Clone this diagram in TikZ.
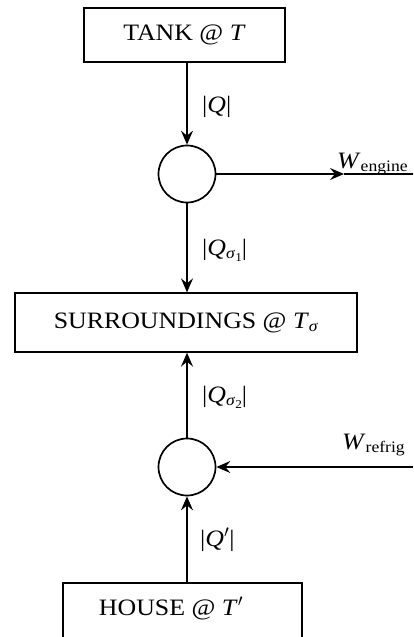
\documentclass[tikz,border=0pt]{standalone}
\usepackage{fontspec}
\setmainfont{Liberation Serif}[FakeStretch=1.1]
\usetikzlibrary{arrows.meta}
\newcommand{\lo}[1]{\raisebox{-0.35ex}{\fontsize{16}{16}\selectfont #1}}
\newcommand{\llo}[1]{\raisebox{-0.3ex}{\fontsize{12}{12}\selectfont #1}}
\begin{document}
\begin{tikzpicture}[x=1pt,y=-1pt,
  box/.style={draw, line width=1.3pt, rectangle, inner sep=0pt, font=\fontsize{23.5}{27}\selectfont},
  engine/.style={draw, circle, line width=1.7pt, minimum size=57pt, inner sep=0pt},
  flow/.style={line width=1.8pt},
  flowarrow/.style={line width=1.8pt, -{Stealth[length=14pt,width=12pt,inset=5pt]}},
  lab/.style={inner sep=0pt, font=\fontsize{23.5}{27}\selectfont}
]
\useasboundingbox (0,0) rectangle (413,637);
\begin{scope}
\clip (0,0) rectangle (413,637);
\node[box, minimum width=201pt, minimum height=54pt] (tank) at (184.5,35) {TANK @ \textit{T}};
\node[engine] (c1) at (187,174) {};
\node[box, minimum width=342pt, minimum height=59pt] (sur) at (186,322.5) {SURROUNDINGS @ \textit{T}\lo{\textit{σ}}};
\node[engine] (c2) at (187,467) {};
\node[box, minimum width=239pt, minimum height=60pt] (house) at (182.5,613) {};
\node[lab] (housetext) at (171,608) {HOUSE @ \textit{T}$'$};

\coordinate (weend) at (413,174);
\coordinate (wemid) at (344,174);
\coordinate (wrend) at (413,467);

\draw[flowarrow] (c1 |- tank.south) -- (c1.north);
\draw[flowarrow] (c1.south) -- (c1 |- sur.north);
\draw[flowarrow] (c2.north) -- (c2 |- sur.south);
\draw[flowarrow] (c2 |- house.north) -- (c2.south);
\draw[flowarrow] (c1.east) -- (wemid);
\draw[flow] (wemid) -- (weend);
\draw[flowarrow] (wrend) -- (c2.east);

\node[lab, anchor=west] (lq) at (202,107) {|\textit{Q}|};
\node[lab, anchor=west] (lqs1) at (202,250) {|\textit{Q}\lo{\textit{σ}\llo{1}}|};
\node[lab, anchor=west] (lqs2) at (202,397) {|\textit{Q}\lo{\textit{σ}\llo{2}}|};
\node[lab, anchor=west] (lqp) at (200,540) {|\textit{Q}$'$|};
\node[lab, anchor=base west] (we) at (337,168) {\textit{W}\lo{engine}};
\node[lab, anchor=base west] (wr) at (342,449) {\textit{W}\lo{refrig}};
\end{scope}
\end{tikzpicture}
\end{document}
